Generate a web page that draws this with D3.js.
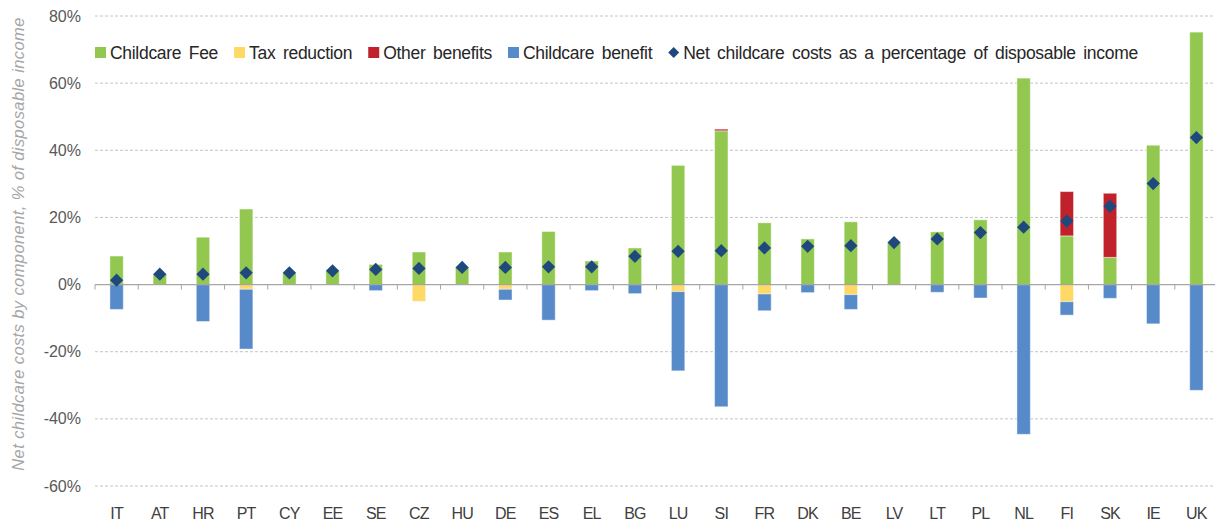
<!DOCTYPE html>
<html>
<head>
<meta charset="utf-8">
<script src="https://cdn.jsdelivr.net/npm/d3@7"></script>
<style>
  html, body { margin: 0; padding: 0; background: #fff; }
  svg { display: block; font-family: "Liberation Sans", Arial, sans-serif; }
</style>
</head>
<body>
<svg id="chart" width="1215" height="525"></svg>
<script>
// Countries, ordered by net childcare cost
const countries = ["IT","AT","HR","PT","CY","EE","SE","CZ","HU","DE","ES","EL","BG","LU","SI","FR","DK","BE","LV","LT","PL","NL","FI","SK","IE","UK"];

// Components, % of disposable income
const childcareFee     = [8.5, 3.1, 14.1, 22.5, 3.5, 4.1, 6.0, 9.7, 5.1, 9.7, 15.8, 7.0, 10.9, 35.5, 45.8, 18.4, 13.6, 18.7, 12.3, 15.7, 19.3, 61.5, 14.5, 8.1, 41.5, 75.2];
const otherBenefits    = [0, 0, 0, 0, 0, 0, 0, 0, 0, 0, 0, 0, 0, 0, 0.5, 0, 0, 0, 0, 0, 0, 0, 13.2, 19.1, 0, 0];
const taxReduction     = [0, 0, 0, -1.4, 0, 0, 0, -5.0, 0, -1.4, 0, 0, 0, -2.1, 0, -2.8, 0, -3.0, 0, 0, 0, 0, -5.1, 0, 0, 0];
const childcareBenefit = [-7.4, 0, -11.0, -17.8, 0, 0, -1.8, 0, 0, -3.2, -10.6, -1.8, -2.7, -23.6, -36.4, -5.0, -2.4, -4.4, 0, -2.3, -4.0, -44.6, -4.0, -4.1, -11.7, -31.5];
const netCost          = [1.3, 3.1, 3.1, 3.5, 3.5, 4.1, 4.5, 4.8, 5.1, 5.1, 5.3, 5.3, 8.4, 9.9, 10.1, 10.9, 11.4, 11.6, 12.5, 13.6, 15.5, 17.1, 18.9, 23.3, 30.1, 43.8];

const yTicks = [80, 60, 40, 20, 0, -20, -40, -60];

const colors = {
  fee: "#92c84f",
  tax: "#ffd966",
  other: "#c0212b",
  benefit: "#568ac8",
  net: "#1f497d"
};

const svg = d3.select("#chart");

const x = d3.scaleBand().domain(countries).range([95, 1218]).padding(0);
const y = d3.scaleLinear().domain([-60, 80]).range([486, 16]);
const barW = x.bandwidth() * 0.31;

// Horizontal gridlines (dashed)
svg.append("g")
  .selectAll("line")
  .data(yTicks.filter(t => t !== 0))
  .join("line")
  .attr("x1", 95).attr("x2", 1215)
  .attr("y1", d => y(d)).attr("y2", d => y(d))
  .attr("stroke", "#c4c4c4")
  .attr("stroke-width", 1)
  .attr("stroke-dasharray", "3,2");

// Y axis labels
const yAxis = d3.axisLeft(y).tickValues(yTicks).tickFormat(d => d + "%").tickSize(0).tickPadding(0);
const yg = svg.append("g").attr("transform", "translate(81,0)").call(yAxis);
yg.select(".domain").remove();
yg.selectAll("text")
  .attr("fill", "#595959")
  .style("font-size", "16px");

// Stacked rows: positive parts stack upward, negative parts downward
const rows = countries.map((c, i) => {
  const fee = childcareFee[i], oth = otherBenefits[i];
  const tax = taxReduction[i], ben = childcareBenefit[i];
  return [
    { c, key: "fee", y0: 0, y1: fee },
    { c, key: "other", y0: fee, y1: fee + oth },
    { c, key: "tax", y0: 0, y1: tax },
    { c, key: "benefit", y0: tax, y1: tax + ben }
  ];
}).flat().filter(d => d.y1 !== d.y0);

svg.append("g")
  .selectAll("rect")
  .data(rows)
  .join("rect")
  .attr("x", d => x(d.c) + (x.bandwidth() - barW) / 2)
  .attr("width", barW)
  .attr("y", d => y(Math.max(d.y0, d.y1)))
  .attr("height", d => Math.abs(y(d.y0) - y(d.y1)))
  .attr("fill", d => colors[d.key])
  .attr("stroke", "rgba(255,255,255,0.45)")
  .attr("stroke-width", 1);

// Zero axis with category ticks
const xAxis = d3.axisBottom(x).tickSize(0).tickFormat("");
const xg = svg.append("g").attr("transform", `translate(0,${y(0)})`).call(xAxis);
xg.select(".domain").attr("stroke", "#a6a6a6").attr("stroke-width", 1.3)
  .attr("d", `M95,0H1215`);
xg.selectAll(".tick").remove();
xg.selectAll("line.sep")
  .data(countries)
  .join("line")
  .attr("class", "sep")
  .attr("x1", d => x(d)).attr("x2", d => x(d))
  .attr("y1", 0).attr("y2", 5)
  .attr("stroke", "#a6a6a6").attr("stroke-width", 1);

// Net cost markers
svg.append("g")
  .selectAll("path")
  .data(countries.map((c, i) => ({ c, v: netCost[i] })))
  .join("path")
  .attr("d", d3.symbol(d3.symbolSquare, 88)())
  .attr("transform", d => `translate(${x(d.c) + x.bandwidth() / 2},${y(d.v)}) rotate(45)`)
  .attr("fill", colors.net);

// Category labels
svg.append("g")
  .selectAll("text")
  .data(countries)
  .join("text")
  .attr("x", d => x(d) + x.bandwidth() / 2)
  .attr("y", 519)
  .attr("text-anchor", "middle")
  .attr("fill", "#404040")
  .style("font-size", "16px")
  .style("letter-spacing", "-0.8px")
  .text(d => d);

// Y axis title
svg.append("text")
  .attr("transform", "translate(24,244) rotate(-90)")
  .attr("text-anchor", "middle")
  .attr("fill", "#a6a6a6")
  .style("font-size", "16.5px")
  .style("font-style", "italic")
  .style("letter-spacing", "0.4px")
  .text("Net childcare costs by component, % of disposable income");

// Legend
const legendItems = [
  { label: "Childcare Fee", key: "fee", shape: "rect" },
  { label: "Tax reduction", key: "tax", shape: "rect" },
  { label: "Other benefits", key: "other", shape: "rect" },
  { label: "Childcare benefit", key: "benefit", shape: "rect" },
  { label: "Net childcare costs as a percentage of disposable income", key: "net", shape: "diamond" }
];
const legend = svg.append("g");
let lx = 95;
legendItems.forEach(item => {
  const g = legend.append("g");
  if (item.shape === "rect") {
    g.append("rect").attr("x", lx).attr("y", 47).attr("width", 11).attr("height", 11).attr("fill", colors[item.key]);
  } else {
    g.append("path").attr("d", d3.symbol(d3.symbolSquare, 60)())
      .attr("transform", `translate(${lx + 5.5},52.5) rotate(45)`).attr("fill", colors.net);
  }
  const t = g.append("text")
    .attr("x", lx + 15).attr("y", 59)
    .attr("fill", "#262626")
    .style("font-size", "17.5px")
    .style("letter-spacing", "-0.3px")
    .style("word-spacing", "3px")
    .text(item.label);
  lx = lx + 15 + t.node().getComputedTextLength() + 16;
});
</script>
</body>
</html>
